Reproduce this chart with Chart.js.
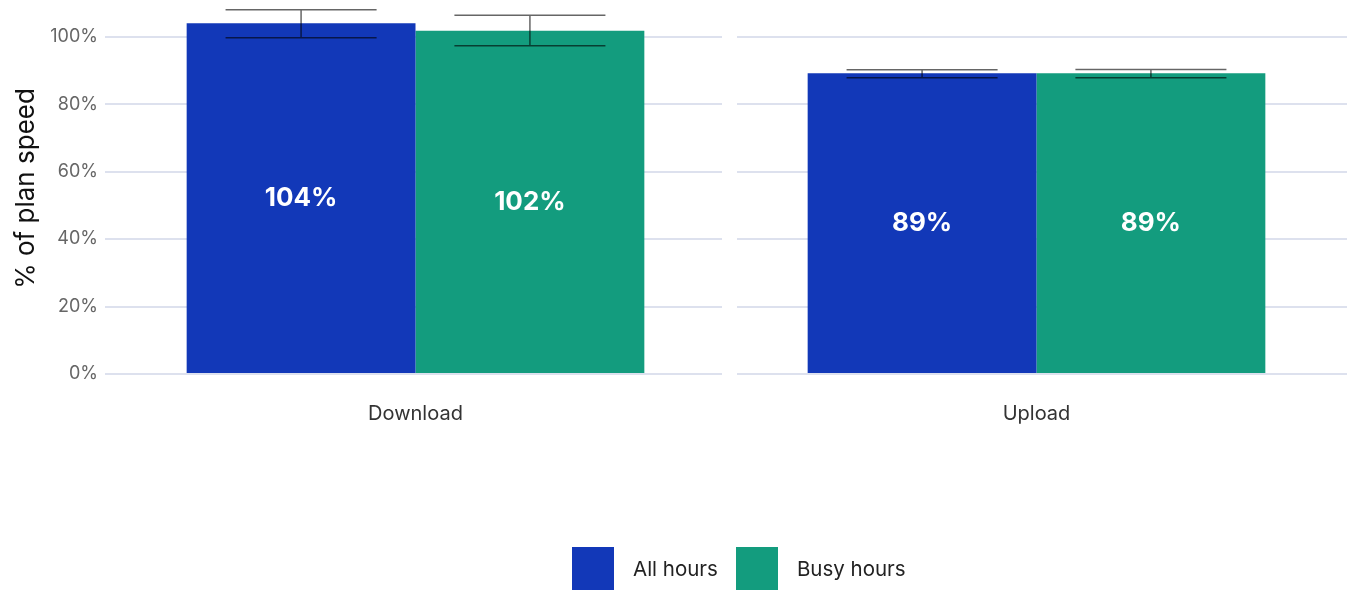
<!DOCTYPE html>
<html>
<head>
<meta charset="utf-8">
<script src="https://cdn.jsdelivr.net/npm/chart.js@4/dist/chart.umd.min.js"></script>
<style>
  html, body { margin: 0; padding: 0; background: #fff; }
  #wrap { position: relative; width: 1353px; height: 592px; }
  #legend { position: absolute; left: 572px; top: 547px; display: flex;
            font-family: "Inter", "Liberation Sans", sans-serif; font-size: 20.5px; color: #222; }
  .item { display: flex; align-items: center; margin-right: 18px; }
  .box { width: 42px; height: 43px; margin-right: 19px; }
</style>
</head>
<body>
<div id="wrap">
  <canvas id="chart" width="1353" height="592"></canvas>
  <div id="legend"></div>
</div>
<script>
// data
var categories = ['Download', 'Upload'];
var seriesNames = ['All hours', 'Busy hours'];
var seriesColors = ['#1238b8', '#139c7e'];
var allHours = [104, 89.2];
var busyHours = [101.8, 89.2];
var allHoursLow = [99.7, 87.8];
var allHoursHigh = [108, 90.2];
var busyHoursLow = [97.3, 87.8];
var busyHoursHigh = [106.4, 90.3];
var tickValues = [0, 20, 40, 60, 80, 100];

var lows = [allHoursLow, busyHoursLow];
var highs = [allHoursHigh, busyHoursHigh];
var labelText = [['104%', '89%'], ['102%', '89%']];

// white strip between the two facets
var facetGap = {
    id: 'facetGap',
    beforeDatasetsDraw: function(chart) {
        var ctx = chart.ctx, area = chart.chartArea;
        var mid = chart.scales.x.getPixelForValue(0.5);
        ctx.save();
        ctx.fillStyle = '#fff';
        ctx.fillRect(mid - 4, area.top - 2, 15, area.bottom - area.top + 4);
        ctx.restore();
    }
};

// error bars + value labels
var barExtras = {
    id: 'barExtras',
    afterDatasetsDraw: function(chart) {
        var ctx = chart.ctx, y = chart.scales.y;
        ctx.save();
        chart.data.datasets.forEach(function(ds, di) {
            var meta = chart.getDatasetMeta(di);
            meta.data.forEach(function(bar, i) {
                var half = bar.width * 0.33;
                var top = y.getPixelForValue(highs[di][i]);
                var low = y.getPixelForValue(lows[di][i]);
                ctx.strokeStyle = 'rgba(0,0,0,0.6)';
                ctx.lineWidth = 1.5;
                ctx.beginPath();
                ctx.moveTo(bar.x - half, top); ctx.lineTo(bar.x + half, top);
                ctx.moveTo(bar.x, top); ctx.lineTo(bar.x, low);
                ctx.moveTo(bar.x - half, low); ctx.lineTo(bar.x + half, low);
                ctx.stroke();

                ctx.fillStyle = '#fff';
                ctx.font = 'bold 26px Inter, "Liberation Sans", sans-serif';
                ctx.textAlign = 'center';
                ctx.textBaseline = 'middle';
                ctx.fillText(labelText[di][i], bar.x, (bar.y + bar.base) / 2);
            });
        });
        ctx.restore();
    }
};

var ctx = document.getElementById('chart');

var chart = new Chart(ctx, {
    type: 'bar',
    data: {
        labels: categories,
        datasets: [
            { label: seriesNames[0], data: allHours, backgroundColor: seriesColors[0] },
            { label: seriesNames[1], data: busyHours, backgroundColor: seriesColors[1] }
        ]
    },
    options: {
        responsive: false,
        animation: false,
        layout: { padding: { top: 3, right: 6, bottom: 138, left: 0 } },
        datasets: { bar: { categoryPercentage: 0.737, barPercentage: 1 } },
        plugins: {
            legend: { display: false },
            tooltip: { enabled: false }
        },
        scales: {
            x: {
                grid: { display: false, drawTicks: false },
                border: { display: false },
                ticks: {
                    padding: 28,
                    color: '#333',
                    font: { family: 'Inter, "Liberation Sans", sans-serif', size: 20 }
                }
            },
            y: {
                min: 0,
                max: 110,
                afterBuildTicks: function(scale) {
                    scale.ticks = tickValues.map(function(v) { return { value: v }; });
                },
                afterFit: function(scale) {
                    scale.width = 105;
                    scale.paddingTop = 0;
                },
                grid: { color: '#dde1ee', lineWidth: 2, drawTicks: false },
                border: { display: false },
                ticks: {
                    padding: 7,
                    color: '#666',
                    font: { family: 'Inter, "Liberation Sans", sans-serif', size: 18 },
                    callback: function(v) { return v + '%'; }
                },
                title: {
                    display: true,
                    text: '% of plan speed',
                    color: '#111',
                    padding: { top: 11, bottom: 0 },
                    font: { family: 'Inter, "Liberation Sans", sans-serif', size: 26 }
                }
            }
        }
    },
    plugins: [facetGap, barExtras]
});

// legend
var legend = document.getElementById('legend');
seriesNames.forEach(function(name, i) {
    var item = document.createElement('div');
    item.className = 'item';
    item.innerHTML = '<div class="box" style="background:' + seriesColors[i] + '"></div><span>' + name + '</span>';
    legend.appendChild(item);
});
</script>
</body>
</html>
